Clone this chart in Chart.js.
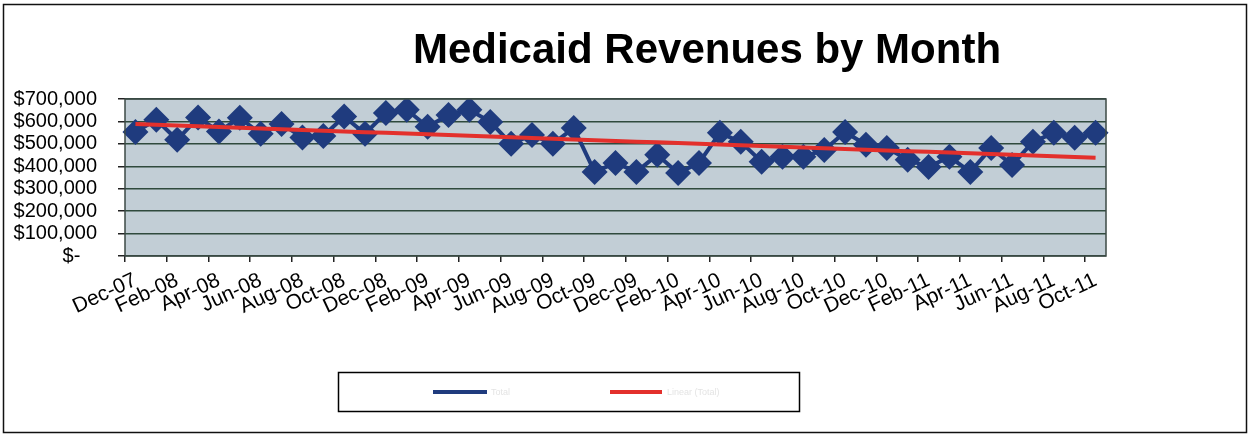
<!DOCTYPE html>
<html>
<head>
<meta charset="utf-8">
<title>Medicaid Revenues by Month</title>
<script src="https://cdn.jsdelivr.net/npm/chart.js"></script>
<style>
  body { margin: 0; background: #fff; }
  #wrap { width: 1256px; height: 438px; position: relative; }
</style>
</head>
<body>
<div id="wrap"><canvas id="revenues"></canvas></div>
<script>
// monthly labels Dec-07 .. Oct-11
const months = [
  'Dec-07', 'Jan-08', 'Feb-08', 'Mar-08', 'Apr-08', 'May-08', 'Jun-08', 'Jul-08', 'Aug-08', 'Sep-08',
  'Oct-08', 'Nov-08', 'Dec-08', 'Jan-09', 'Feb-09', 'Mar-09', 'Apr-09', 'May-09', 'Jun-09', 'Jul-09',
  'Aug-09', 'Sep-09', 'Oct-09', 'Nov-09', 'Dec-09', 'Jan-10', 'Feb-10', 'Mar-10', 'Apr-10', 'May-10',
  'Jun-10', 'Jul-10', 'Aug-10', 'Sep-10', 'Oct-10', 'Nov-10', 'Dec-10', 'Jan-11', 'Feb-11', 'Mar-11',
  'Apr-11', 'May-11', 'Jun-11', 'Jul-11', 'Aug-11', 'Sep-11', 'Oct-11'
];

// revenue per month
const revenue = [
  553000, 607000, 518000, 617000, 555000, 616000, 545000, 589000, 528000, 535000,
  622000, 545000, 638000, 652000, 576000, 629000, 652000, 598000, 500000, 540000,
  500000, 571000, 375000, 415000, 375000, 451000, 370000, 415000, 549000, 509000,
  420000, 442000, 442000, 473000, 553000, 496000, 482000, 429000, 397000, 442000,
  375000, 482000, 406000, 509000, 549000, 527000, 549000
];

const yTicks = [0, 100000, 200000, 300000, 400000, 500000, 600000, 700000];
const legendNames = ['Total', 'Linear (Total)'];

// linear trend (least squares), like the spreadsheet trendline
function linearTrend(vals) {
  const n = vals.length;
  let sx = 0, sy = 0, sxx = 0, sxy = 0;
  vals.forEach((v, i) => { sx += i; sy += v; sxx += i * i; sxy += i * v; });
  const b = (n * sxy - sx * sy) / (n * sxx - sx * sx);
  const a = (sy - b * sx) / n;
  return vals.map((v, i) => a + b * i);
}
const trend = linearTrend(revenue);

const FONT = '"Liberation Sans", Arial, sans-serif';
const BLUE = '#1f3b7e';
const RED = '#e3302c';

const frame = {
  id: 'frame',
  beforeDraw(chart) {
    const { ctx, chartArea: a } = chart;
    ctx.save();
    ctx.fillStyle = '#c2ced6';
    ctx.fillRect(a.left, a.top, a.right - a.left, a.bottom - a.top);
    ctx.restore();
  },
  afterDraw(chart) {
    const { ctx, chartArea: a } = chart;
    ctx.save();
    // plot border
    ctx.strokeStyle = '#3d4a45';
    ctx.lineWidth = 1.5;
    ctx.strokeRect(a.left, a.top, a.right - a.left, a.bottom - a.top);
    // outer border
    ctx.strokeStyle = '#111';
    ctx.lineWidth = 1.5;
    ctx.strokeRect(3.5, 4.5, 1243, 428);
    // title
    ctx.fillStyle = '#000';
    ctx.font = 'bold 42px ' + FONT;
    ctx.textAlign = 'center';
    ctx.textBaseline = 'middle';
    ctx.fillText('Medicaid Revenues by Month', 707, 51);
    // legend box
    ctx.lineWidth = 1.5;
    ctx.strokeStyle = '#000';
    ctx.strokeRect(338.5, 372.5, 461, 39);
    ctx.lineWidth = 4;
    ctx.strokeStyle = BLUE;
    ctx.beginPath(); ctx.moveTo(433, 392); ctx.lineTo(487, 392); ctx.stroke();
    ctx.strokeStyle = RED;
    ctx.beginPath(); ctx.moveTo(610, 392); ctx.lineTo(662, 392); ctx.stroke();
    ctx.font = '9px ' + FONT;
    ctx.fillStyle = '#e4e4e4';
    ctx.textAlign = 'left';
    ctx.fillText(legendNames[0], 491, 393);
    ctx.fillText(legendNames[1], 667, 393);
    ctx.restore();
  }
};

const ctx = document.getElementById('revenues').getContext('2d');
const chart = new Chart(ctx, {
  type: 'line',
  data: {
    labels: months,
    datasets: [{
      label: legendNames[0],
      data: revenue,
      borderColor: BLUE,
      backgroundColor: BLUE,
      borderWidth: 4,
      pointStyle: 'rectRot',
      pointRadius: 13,
      pointBorderWidth: 0,
      pointBackgroundColor: BLUE,
      tension: 0,
      order: 2
    }, {
      label: legendNames[1],
      data: trend,
      borderColor: RED,
      borderWidth: 4,
      pointRadius: 0,
      tension: 0,
      order: 1
    }]
  },
  plugins: [frame],
  options: {
    responsive: true,
    maintainAspectRatio: false,
    animation: false,
    layout: { padding: { left: 0, top: 99, right: 150, bottom: 0 } },
    plugins: {
      legend: { display: false },
      title: { display: false },
      tooltip: { enabled: false }
    },
    scales: {
      x: {
        offset: true,
        afterFit(scale) { scale.height = 182; },
        grid: {
          offset: true,
          drawOnChartArea: false,
          drawTicks: true,
          tickLength: 6,
          color: c => (c.index % 2 === 0 ? '#222' : 'rgba(0,0,0,0)'),
          lineWidth: 1.5
        },
        border: { display: false },
        ticks: {
          autoSkip: false,
          minRotation: 25,
          maxRotation: 25,
          padding: 6,
          color: '#000',
          font: { family: FONT, size: 21 },
          callback(v, i) { return i % 2 === 0 ? months[i] : ''; }
        }
      },
      y: {
        min: 0,
        max: 700000,
        afterFit(scale) { scale.width = 125; },
        afterBuildTicks(scale) { scale.ticks = yTicks.map(v => ({ value: v })); },
        grid: {
          color: '#2f4a3d',
          lineWidth: 1.5,
          tickLength: 7,
          tickColor: '#222'
        },
        border: { display: false },
        ticks: {
          autoSkip: false,
          padding: 21,
          color: '#000',
          font: { family: FONT, size: 20, lineHeight: 1 },
          callback(v) { return v === 0 ? '$-   ' : '$' + v.toLocaleString('en-US'); }
        }
      }
    }
  }
});
</script>
</body>
</html>
